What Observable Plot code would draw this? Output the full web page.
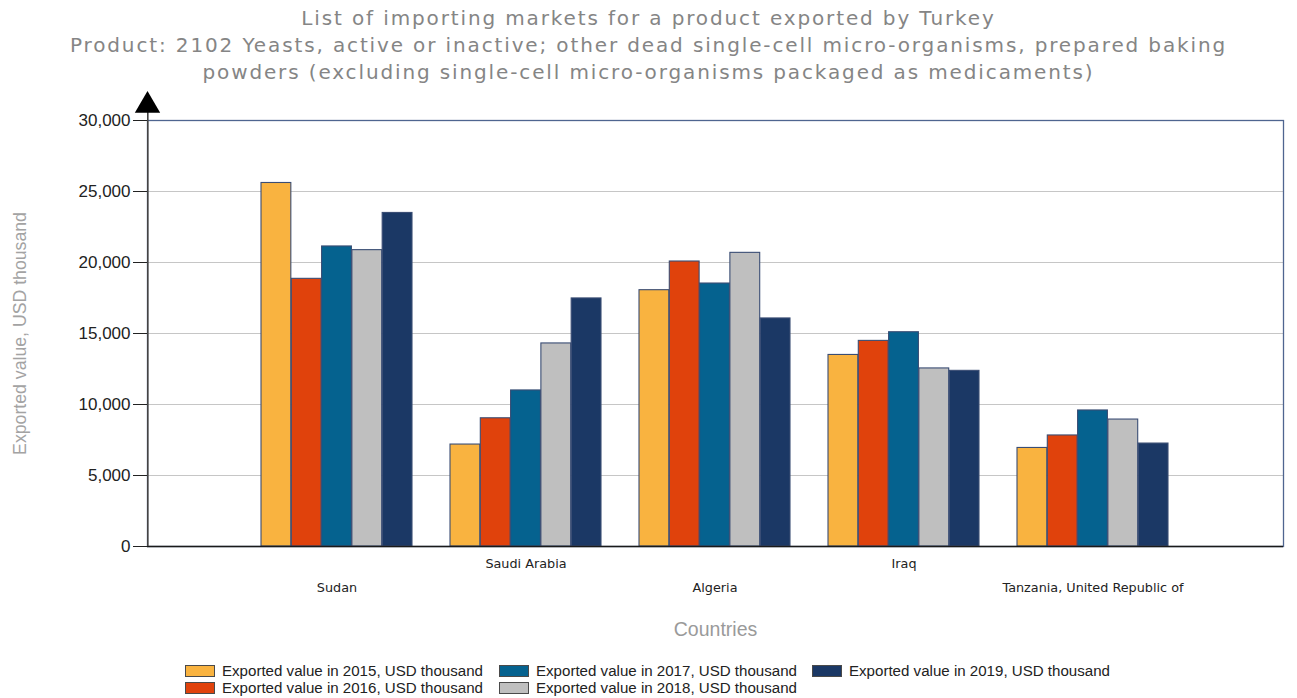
<!DOCTYPE html>
<html>
<head>
<meta charset="utf-8">
<script src="https://cdn.jsdelivr.net/npm/d3@7"></script>
<script src="https://cdn.jsdelivr.net/npm/@observablehq/plot@0.6"></script>
<style>
  body { margin: 0; background: #fff; width: 1297px; height: 698px; overflow: hidden; position: relative; }
  #title { height: 86px; box-sizing: border-box; padding-top: 5px; text-align: center; font-family: "DejaVu Sans", Verdana, sans-serif; font-size: 20px; letter-spacing: 1.87px; line-height: 27px; color: #858585; width: 1297px; }
  #legend { position: absolute; left: 185px; top: 662px; display: grid; grid-template-columns: 314px 313px auto; grid-template-rows: 17px 17px; grid-auto-flow: column; font-family: "Liberation Sans", Arial, sans-serif; font-size: 15.1px; color: #222; }
  .item { display: flex; align-items: center; white-space: nowrap; }
  .sw { width: 30px; height: 12px; box-sizing: border-box; border: 1px solid #4a4a4a; margin-right: 7px; }
  svg { display: block; }
</style>
</head>
<body>
<div id="title">List of importing markets for a product exported by Turkey<br>Product: 2102 Yeasts, active or inactive; other dead single-cell micro-organisms, prepared baking<br>powders (excluding single-cell micro-organisms packaged as medicaments)</div>
<div id="chart"></div>
<div id="legend"></div>
<script>
const countries = ["Sudan", "Saudi Arabia", "Algeria", "Iraq", "Tanzania, United Republic of"];
const years = [2015, 2016, 2017, 2018, 2019];
const v2015 = [25600, 7180, 18050, 13490, 6940];
const v2016 = [18850, 9030, 20070, 14480, 7820];
const v2017 = [21130, 10990, 18520, 15090, 9580];
const v2018 = [20870, 14300, 20680, 12540, 8940];
const v2019 = [23490, 17470, 16060, 12370, 7250];
const yTicks = [0, 5000, 10000, 15000, 20000, 25000, 30000];
const seriesLabels = years.map(y => `Exported value in ${y}, USD thousand`);
const colors = ["#F9B340", "#E0420C", "#05628F", "#BFBFBF", "#1B3865"];

const series = [v2015, v2016, v2017, v2018, v2019];

const width = 1297, height = 560;
const marginLeft = 147, marginRight = 14, marginTop = 34, marginBottom = 100;
const innerW = width - marginLeft - marginRight;
const paddingInner = 0.2, paddingOuter = 0.6;
const step = innerW / (countries.length - paddingInner + 2 * paddingOuter);
const bw = step * (1 - paddingInner);
const w = bw / years.length;

const barMarks = series.map((vals, i) =>
  Plot.barY(countries.map((c, j) => ({country: c, value: vals[j]})), {
    x: "country", y: "value", fill: colors[i], stroke: "#3a4d74", strokeWidth: 1.1,
    insetLeft: i * w, insetRight: (years.length - 1 - i) * w
  })
);

const chart = Plot.plot({
  width, height, marginLeft, marginRight, marginTop, marginBottom,
  style: {background: "#fff", overflow: "visible"},
  x: {domain: countries, paddingInner, paddingOuter, axis: null},
  y: {domain: [0, 30000], axis: null},
  marks: [
    Plot.ruleY(yTicks.slice(1, -1), {stroke: "#c6c6c6", strokeWidth: 1.2}),
    Plot.frame({stroke: "#4f6590", strokeWidth: 1.3}),
    ...barMarks,
    Plot.ruleY([0], {stroke: "#1a1a1a", strokeWidth: 1.5}),
    Plot.barY([0], {y1: 0, y2: 31200, fill: "#444", insetRight: innerW - 1.6}),
    Plot.dot([0], {frameAnchor: "top-left", symbol: "triangle", r: 9.4, fill: "#000", stroke: "none", dy: -15}),
    Plot.axisY({ticks: yTicks, tickSize: 14, tickPadding: 3, tickFormat: d3.format(","), fontSize: 17, color: "#222", stroke: "#222", fontFamily: "Liberation Sans, Arial, sans-serif", label: null}),
    Plot.axisX({ticks: [countries[1], countries[3]], tickSize: 0, tickPadding: 12, fontSize: 12.8, color: "#222", fontFamily: "DejaVu Sans, sans-serif", label: null}),
    Plot.axisX({ticks: [countries[0], countries[2], countries[4]], tickSize: 0, tickPadding: 36, fontSize: 12.8, color: "#222", fontFamily: "DejaVu Sans, sans-serif", label: null}),
    Plot.text(["Exported value, USD thousand"], {frameAnchor: "left", textAnchor: "middle", rotate: -90, dx: -127, fontSize: 17.7, fill: "#a3a3a3", fontFamily: "Liberation Sans, Arial, sans-serif"}),
    Plot.text(["Countries"], {frameAnchor: "bottom", dy: 89, fontSize: 19.5, fill: "#9a9a9a", fontFamily: "Liberation Sans, Arial, sans-serif"})
  ]
});
document.getElementById("chart").appendChild(chart);

const legend = document.getElementById("legend");
seriesLabels.forEach((lab, i) => {
  const item = document.createElement("div");
  item.className = "item";
  const sw = document.createElement("div");
  sw.className = "sw";
  sw.style.background = colors[i];
  item.appendChild(sw);
  item.appendChild(document.createTextNode(lab));
  legend.appendChild(item);
});
</script>
</body>
</html>
